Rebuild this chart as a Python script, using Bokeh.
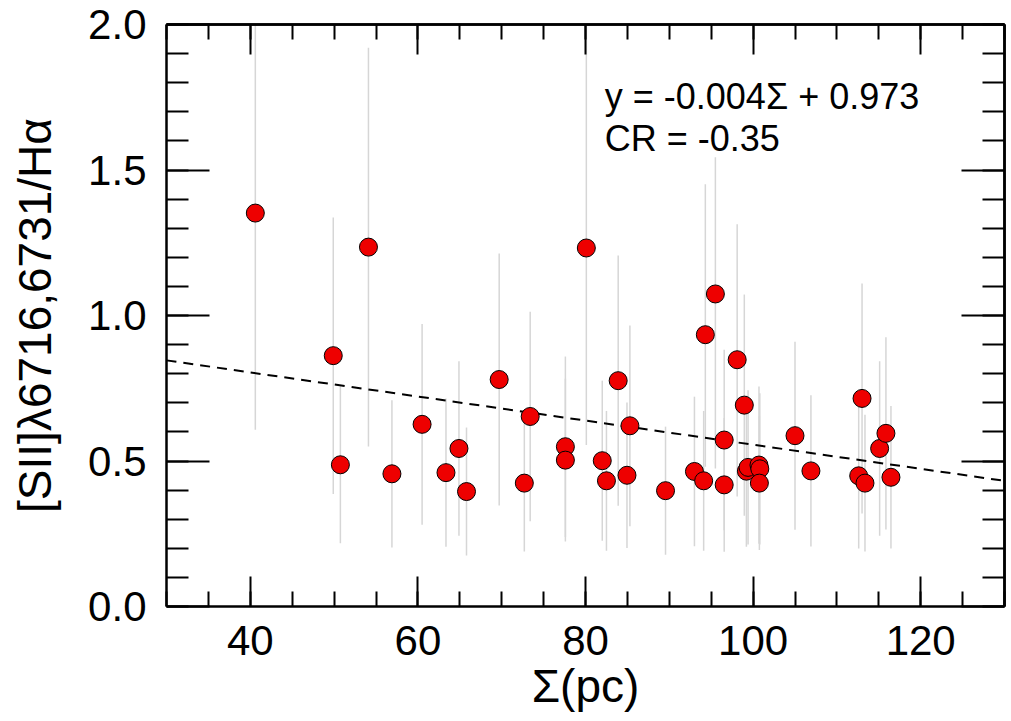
from bokeh.plotting import figure
from bokeh.models import FixedTicker, LinearAxis, Range1d, Label, ColumnDataSource, PrintfTickFormatter
from bokeh.embed import file_html
from bokeh.resources import INLINE
import numpy as np

# ---- data ----
sigma_pc = [40.6, 49.9, 50.75, 54.1, 56.9, 60.5, 63.35, 64.9, 65.8, 69.7,
            72.7, 73.4, 77.6, 77.6, 80.1, 82.0, 82.5, 83.9, 84.95, 85.3,
            89.55, 93.0, 94.1, 94.3, 95.5, 96.55, 96.55, 98.1, 98.95, 99.2,
            99.4, 100.7, 100.8, 100.75, 105.0, 106.9, 112.6, 113.0, 113.35, 115.1,
            115.85, 116.45]
sii_ha = [1.352, 0.862, 0.487, 1.235, 0.456, 0.626, 0.460, 0.543, 0.395, 0.780,
          0.424, 0.653, 0.549, 0.503, 1.232, 0.501, 0.432, 0.776, 0.451, 0.621,
          0.398, 0.464, 0.432, 0.934, 1.074, 0.572, 0.418, 0.848, 0.692, 0.465,
          0.478, 0.486, 0.473, 0.424, 0.587, 0.466, 0.449, 0.715, 0.424, 0.543,
          0.595, 0.444]
err_lo = [0.745, 0.475, 0.270, 0.685, 0.253, 0.345, 0.255, 0.300, 0.220, 0.433,
          0.235, 0.360, 0.310, 0.280, 0.677, 0.275, 0.240, 0.430, 0.250, 0.345,
          0.220, 0.257, 0.240, 0.454, 0.600, 0.310, 0.230, 0.470, 0.380, 0.260,
          0.265, 0.270, 0.260, 0.230, 0.323, 0.260, 0.250, 0.395, 0.235, 0.300,
          0.330, 0.245]
err_hi = [0.745, 0.475, 0.270, 0.685, 0.253, 0.345, 0.255, 0.300, 0.220, 0.433,
          0.235, 0.360, 0.310, 0.280, 0.800, 0.275, 0.240, 0.430, 0.250, 0.345,
          0.220, 0.257, 0.240, 0.517, 0.470, 0.310, 0.230, 0.466, 0.380, 0.260,
          0.265, 0.270, 0.260, 0.230, 0.323, 0.260, 0.250, 0.395, 0.235, 0.300,
          0.330, 0.245]
fit_slope = -0.00414
fit_intercept = 0.970
fit_x = [30, 130]
x_major = [40, 60, 80, 100, 120]
x_minor = list(range(30, 131, 5))
y_major = [0.0, 0.5, 1.0, 1.5, 2.0]
y_minor = [round(0.1 * i, 1) for i in range(0, 21)]
eq_text = "y = -0.004Σ + 0.973"
cr_text = "CR = -0.35"

FONT = "Liberation Sans"

p = figure(frame_width=838, frame_height=582,
           x_range=Range1d(30, 130), y_range=Range1d(0, 2),
           output_backend="svg", toolbar_location=None,
           min_border_left=166, min_border_top=24,
           min_border_right=4, min_border_bottom=95,
           x_axis_label="Σ(pc)", y_axis_label="[SII]λ6716,6731/Hα")
p.xgrid.visible = False
p.ygrid.visible = False
p.outline_line_color = None
p.background_fill_color = "white"
p.border_fill_color = "white"

# error bars
xs = np.array(sigma_pc)
ys = np.array(sii_ha)
src = ColumnDataSource(dict(x=xs, y=ys,
                            lo=ys - np.array(err_lo), hi=ys + np.array(err_hi)))
p.segment(x0="x", y0="lo", x1="x", y1="hi", source=src,
          line_color="#d6d6d6", line_width=1.5)

# fit line
fx = np.array(fit_x, dtype=float)
p.line(fx, fit_slope * fx + fit_intercept, line_color="black",
       line_width=2, line_dash="10 7")

# points
p.scatter(x="x", y="y", source=src, size=18, fill_color="#ee0000",
          line_color="black", line_width=1)

def style(ax, major_in, minor_in):
    ax.major_tick_in = major_in
    ax.major_tick_out = 0
    ax.minor_tick_in = minor_in
    ax.minor_tick_out = 0
    ax.axis_line_width = 2.5
    ax.axis_line_color = "black"
    ax.major_tick_line_width = 2
    ax.minor_tick_line_width = 2
    ax.major_tick_line_color = "black"
    ax.minor_tick_line_color = "black"

xa = p.xaxis[0]
xa.ticker = FixedTicker(ticks=x_major, minor_ticks=x_minor)
style(xa, 30, 15)
xa.major_label_text_font = FONT
xa.major_label_text_font_size = "42px"
xa.major_label_text_color = "black"
xa.major_label_standoff = 19
xa.axis_label_text_font = FONT
xa.axis_label_text_font_size = "46px"
xa.axis_label_text_font_style = "normal"
xa.axis_label_text_color = "black"
xa.axis_label_standoff = 2

ya = p.yaxis[0]
ya.ticker = FixedTicker(ticks=y_major, minor_ticks=y_minor)
ya.formatter = PrintfTickFormatter(format="%.1f")
style(ya, 43, 22)
ya.major_label_text_font = FONT
ya.major_label_text_font_size = "42px"
ya.major_label_text_color = "black"
ya.major_label_standoff = 20
ya.axis_label_text_font = FONT
ya.axis_label_text_font_size = "46px"
ya.axis_label_text_font_style = "normal"
ya.axis_label_text_color = "black"
ya.axis_label_standoff = 24

# mirrored ticks (no labels): long ticks and short ticks as separate tick sets
def mirror(side, long_ticks, short_ticks, long_len, short_len):
    for ticks, ln in ((long_ticks, long_len), (short_ticks, short_len)):
        ax = LinearAxis(ticker=FixedTicker(ticks=[], minor_ticks=ticks))
        style(ax, 0, ln)
        ax.major_label_standoff = 0
        p.add_layout(ax, side)

mirror("above", x_major, x_minor, 30, 15)
mirror("right", y_major, y_minor, 43, 22)

for txt, yy in ((eq_text, 1.752), (cr_text, 1.608)):
    p.add_layout(Label(x=82.3, y=yy, text=txt, text_font=FONT,
                       text_font_size="36px", text_color="black",
                       text_baseline="alphabetic", text_align="left"))

open("out.html", "w").write(file_html(p, INLINE))
